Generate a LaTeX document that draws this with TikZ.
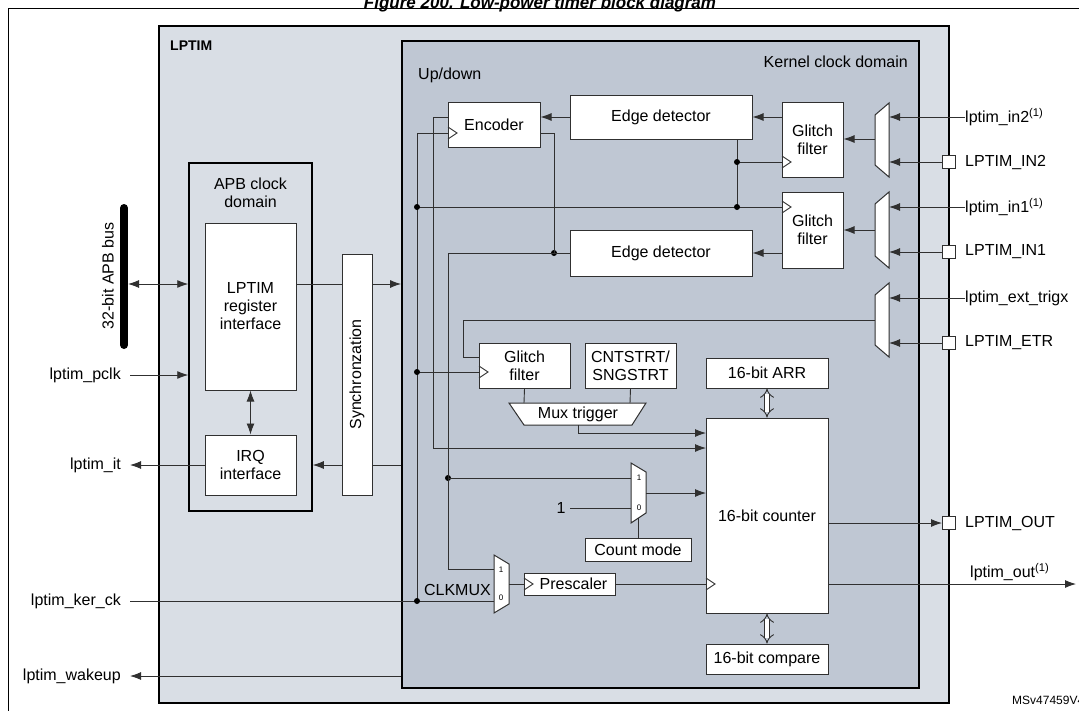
\documentclass[tikz,border=0pt]{standalone}
\usepackage{fontspec}
\setmainfont{Liberation Sans}
\usetikzlibrary{arrows.meta}
\definecolor{lpbg}{HTML}{D9DEE5}
\definecolor{kbg}{HTML}{BFC7D3}
\definecolor{wire}{HTML}{303030}
\begin{document}
\begin{tikzpicture}[x=1pt,y=-1pt,
  every node/.style={font=\fontsize{16}{18}\selectfont},
  box/.style={draw=wire,line width=1pt,fill=white,inner sep=0pt,align=center},
  frame/.style={draw=black,line width=1.8pt,inner sep=0pt},
  w/.style={draw=wire,line width=0.9pt},
  a/.style={w,-{Latex[length=11pt,width=8pt]}},
  aa/.style={w,{Latex[length=11pt,width=8pt]}-{Latex[length=11pt,width=8pt]}},
  dot/.style={circle,fill=black,inner sep=0pt,minimum size=6pt},
  pinsq/.style={draw=wire,line width=1pt,fill=white,minimum size=13pt,inner sep=0pt},
  lbl/.style={inner sep=0pt},
  mx/.style={draw=wire,line width=1pt,fill=white},
  hollow/.style={draw=wire,line width=0.9pt,double=white,double distance=4pt,{Implies}-{Implies}},
  small/.style={inner sep=0pt,font=\fontsize{8}{9}\selectfont}]
\useasboundingbox (0,0) rectangle (1079,710);
\node[font=\bfseries\itshape\fontsize{17}{19}\selectfont] (title) at (540,4) {Figure 200. Low-power timer block diagram};
\draw[line width=1pt] (8,8) rectangle (1090,720);
\node[frame,fill=lpbg,minimum width=790,minimum height=677] (lptim) at (554,364.5) {};
\node[lbl,anchor=west,font=\bfseries\fontsize{14}{16}\selectfont] (lptimlbl) at (170,46) {LPTIM};
\node[frame,fill=kbg,minimum width=517,minimum height=647] (kern) at (660.5,364.5) {};
\node[lbl,anchor=east] (kcd) at (908,62) {Kernel clock domain};
\node[lbl,anchor=west] (ud) at (418,75) {Up/down};
% APB domain
\node[frame,line width=1.5pt,fill=lpbg,minimum width=123,minimum height=348] (apb) at (250.5,337) {};
\node[lbl,align=center] (apblbl) at (250.5,193) {APB clock\\domain};
\node[box,minimum width=91,minimum height=167] (reg) at (250.5,306.5) {LPTIM\\register\\interface};
\node[box,minimum width=91,minimum height=60] (irq) at (250.5,465) {IRQ\\interface};
\node[box,minimum width=30,minimum height=241] (sync) at (357,374.5) {};
\node[lbl,rotate=90] (synclbl) at (357,374.5) {Synchronzation};
% bus
\draw[line width=8pt,line cap=round] (124,208) -- (124,345);
\node[lbl,rotate=90] (buslbl) at (108,276) {32-bit APB bus};
\coordinate (busR) at (128,284);
\draw[aa] (busR) -- (busR -| apb.west);
\node[lbl,anchor=east] (pclk) at (121,375) {lptim\_pclk};
\coordinate (pclkE) at (130,375);
\draw[a] (pclkE) -- (pclkE -| apb.west);
\node[lbl,anchor=east] (it) at (121,465) {lptim\_it};
\coordinate (itE) at (130,465);
\draw[a] (irq.west) -- (itE);
\node[lbl,anchor=east] (kerck) at (121,601) {lptim\_ker\_ck};
\node[lbl,anchor=east] (wake) at (121,676) {lptim\_wakeup};
\coordinate (wakeE) at (130,676);
\draw[a] (wakeE -| kern.west) -- (wakeE);
\draw[aa] (reg.south) -- (irq.north);
\draw[w] (reg.east |- busR) -- (sync.west |- busR);
\draw[a] (sync.east |- busR) -- (kern.west |- busR);
\draw[w] (kern.west |- irq) -- (sync.east |- irq);
\draw[a] (sync.west |- irq) -- (apb.east |- irq);
% kernel blocks
\node[box,minimum width=92,minimum height=45] (enc) at (494,124.5) {Encoder};
\node[box,minimum width=182,minimum height=44] (ed1) at (661,117) {Edge detector};
\node[box,minimum width=182,minimum height=46] (ed2) at (661,253) {Edge detector};
\node[box,minimum width=61,minimum height=75] (gf1) at (812.5,139.5) {Glitch\\filter};
\node[box,minimum width=61,minimum height=76] (gf2) at (812.5,230) {Glitch\\filter};
\node[box,minimum width=91,minimum height=45] (gf3) at (524.5,365.5) {Glitch\\filter};
\node[box,minimum width=91,minimum height=45] (cnt) at (630.5,365.5) {CNTSTRT/\\SNGSTRT};
\node[box,minimum width=122,minimum height=30] (arr) at (767,373) {16-bit ARR};
\node[box,minimum width=122,minimum height=195] (ctr) at (767,515.5) {16-bit counter};
\node[box,minimum width=122,minimum height=30] (cmp) at (767,659) {16-bit compare};
\node[box,minimum width=106,minimum height=23] (cmode) at (638,549.5) {Count mode};
\node[box,minimum width=91,minimum height=22] (pre) at (569.5,584) {\hspace*{8pt}Prescaler};
% muxes
\draw[mx] (889,103)--(889,177)--(875,165)--(875,115)--cycle;
\draw[mx] (889,192)--(889,268)--(875,256)--(875,204)--cycle;
\draw[mx] (889,283)--(889,357)--(875,345)--(875,295)--cycle;
\coordinate (m1o) at (875,139); \coordinate (m2o) at (875,230); \coordinate (m3o) at (875,320);
\draw[mx] (509,403)--(646,403)--(632,425)--(524,425)--cycle;
\node[lbl] (mt) at (578,414) {Mux trigger};
\draw[mx] (631,463)--(646,472)--(646,513)--(631,523)--cycle;
\node[small] (cm1) at (639,478) {1}; \node[small] (cm0) at (639,508) {0};
\draw[mx] (494,555)--(509,564)--(509,604)--(494,613)--cycle;
\node[small] (ck1) at (501,570) {1}; \node[small] (ck0) at (501,598) {0};
\node[lbl,anchor=east] (clkmux) at (491,590) {CLKMUX};
% inputs
\node[lbl,anchor=west] (in2) at (965,117) {lptim\_in2\textsuperscript{(1)}};
\node[lbl,anchor=west] (in1) at (965,207) {lptim\_in1\textsuperscript{(1)}};
\node[lbl,anchor=west] (etx) at (965,298) {lptim\_ext\_trigx};
\node[pinsq] (pIN2) at (949,162) {}; \node[lbl,anchor=west] (lIN2) at (965,162) {LPTIM\_IN2};
\node[pinsq] (pIN1) at (949,252) {}; \node[lbl,anchor=west] (lIN1) at (965,252) {LPTIM\_IN1};
\node[pinsq] (pETR) at (949,343) {}; \node[lbl,anchor=west] (lETR) at (965,343) {LPTIM\_ETR};
\node[pinsq] (pOUT) at (949,523) {}; \node[lbl,anchor=west] (lOUT) at (965,523) {LPTIM\_OUT};
\node[lbl,anchor=west] (lout) at (970,572) {lptim\_out\textsuperscript{(1)}};
\draw[a] (in2.west) -- (889,117);
\draw[a] (in1.west) -- (889,207);
\draw[a] (etx.west) -- (889,298);
\draw[a] (pIN2.west) -- (889,162);
\draw[a] (pIN1.west) -- (889,252);
\draw[a] (pETR.west) -- (889,343);
\draw[a] (m1o) -- (gf1.east |- m1o);
\draw[a] (m2o) -- (gf2.east |- m2o);
\draw[a] (gf1.west |- ed1) -- (ed1.east);
\draw[a] (gf2.west |- ed2) -- (ed2.east);
\draw[a] (ed1.west) -- (enc.east |- ed1);
% clock wires
\coordinate (kdot) at (417,601);
\draw[w] (kerck.east) ++(9,0) -- (494,601);
\draw[w] (448,133) -- (417,133) -- (kdot);
\draw[w] (417,207) -- (782,207);
\draw[w] (ed1.south -| 737,0) -- (737,207);
\draw[w] (737,162) -- (782,162);
\draw[w] (417,372) -- (479,372);
\draw[w] (pre.east) -- (706,584);
\draw[w] (509,584) -- (pre.west);
\foreach \p in {(448,133),(782,162),(782,207),(479,372),(524,584),(706,584)}
  \draw[w] \p ++(0,-6) -- ++(9,6) -- ++(-9,6);
\foreach \p in {(417,207),(417,372),(kdot),(737,162),(737,207),(554,253),(448,478)}
  \node[dot] at \p {};
% other wires
\draw[a] (448,117) -- (433,117) -- (433,448) -- (706,448);
\draw[w] (540,133) -- (554,133) -- (554,253);
\draw[w] (ed2.west) -- (448,253) -- (448,569) -- (494,569);
\draw[w] (448,478) -- (631,478);
\draw[w] (m3o) -- (463,320) -- (463,357) -- (479,357);
\draw[w] (gf3.south) -- (524,403);
\draw[w] (cnt.south) -- (630,403);
\draw[a] (578,425) -- (578,433) -- (706,433);
\node[lbl] (one) at (561,508) {1};
\draw[w] (570,508) -- (631,508);
\draw[a] (646,493) -- (706,493);
\draw[w] (638,518) -- (cmode.north);
\draw[hollow] (arr.south) -- (ctr.north);
\draw[hollow] (ctr.south) -- (cmp.north);
\draw[a] (828,523) -- (pOUT.west);
\draw[a] (828,584) -- (1076,584);
\node[lbl,anchor=west,font=\fontsize{12}{14}\selectfont] (ms) at (1012,700) {MSv47459V4};
\end{tikzpicture}
\end{document}
